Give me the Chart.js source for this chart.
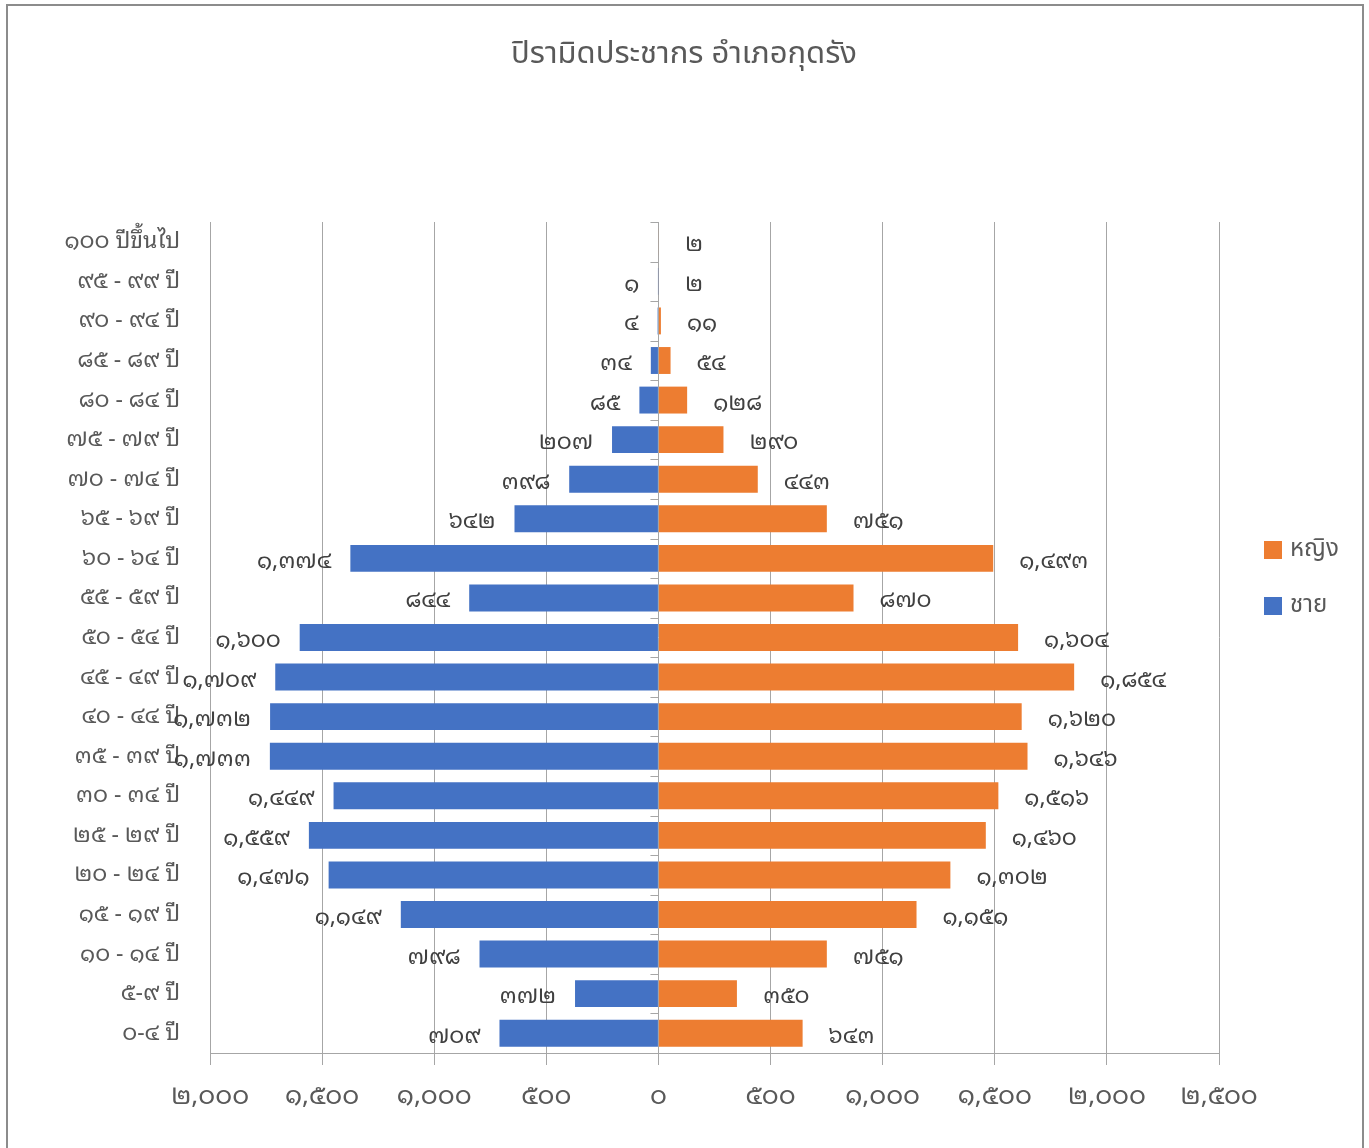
<!DOCTYPE html>
<html>
<head>
<meta charset="utf-8">
<title>ปิรามิดประชากร อำเภอกุดรัง</title>
<script src="https://cdn.jsdelivr.net/npm/chart.js@4.4.1/dist/chart.umd.min.js"></script>
<style>
  html, body { margin: 0; padding: 0; background: #ffffff; }
  #wrap { position: absolute; left: 0; top: 0; width: 1369px; height: 1148px; }
</style>
</head>
<body>
<div id="wrap"><canvas id="pyramid" width="1369" height="1148"></canvas></div>
<script>
// Age groups, oldest at the top
const ageGroups = [
  '๑๐๐ ปีขึ้นไป', '๙๕ - ๙๙ ปี', '๙๐ - ๙๔ ปี', '๘๕ - ๘๙ ปี', '๘๐ - ๘๔ ปี',
  '๗๕ - ๗๙ ปี', '๗๐ - ๗๔ ปี', '๖๕ - ๖๙ ปี', '๖๐ - ๖๔ ปี', '๕๕ - ๕๙ ปี',
  '๕๐ - ๕๔ ปี', '๔๕ - ๔๙ ปี', '๔๐ - ๔๔ ปี', '๓๕ - ๓๙ ปี', '๓๐ - ๓๔ ปี',
  '๒๕ - ๒๙ ปี', '๒๐ - ๒๔ ปี', '๑๕ - ๑๙ ปี', '๑๐ - ๑๔ ปี', '๕-๙ ปี', '๐-๔ ปี'
];

// ชาย (male) counts per age group
const maleCounts = [
  null, 1, 4, 34, 85, 207, 398, 642, 1374, 844,
  1600, 1709, 1732, 1733, 1449, 1559, 1471, 1149, 798, 372, 709
];

// หญิง (female) counts per age group
const femaleCounts = [
  2, 2, 11, 54, 128, 290, 443, 751, 1493, 870,
  1604, 1854, 1620, 1646, 1516, 1460, 1302, 1151, 751, 350, 643
];

// Value axis ticks and their printed labels
const axisTickValues = [-2000, -1500, -1000, -500, 0, 500, 1000, 1500, 2000, 2500];
const axisTickLabels = ['๒,๐๐๐', '๑,๕๐๐', '๑,๐๐๐', '๕๐๐', '๐', '๕๐๐', '๑,๐๐๐', '๑,๕๐๐', '๒,๐๐๐', '๒,๕๐๐'];

const seriesNames = { male: 'ชาย', female: 'หญิง' };
const chartTitle = 'ปิรามิดประชากร อำเภอกุดรัง';

const COLORS = { male: '#4472C4', female: '#ED7D31', grid: '#a6a6a6', text: '#595959', label: '#404040' };
const FONT_PLAIN = "'Noto Sans Thai', 'Noto Sans', sans-serif";
const FONT_LOOPED = "'Noto Sans Thai Looped', 'Noto Sans Thai', 'Noto Sans', sans-serif";

const thaiDigits = ['๐','๑','๒','๓','๔','๕','๖','๗','๘','๙'];
function toThai(n) {
  return Math.abs(n).toLocaleString('en-US').replace(/[0-9]/g, d => thaiDigits[+d]);
}

// Frame and title
const framePlugin = {
  id: 'frame',
  beforeDraw(chart) {
    const c = chart.ctx;
    c.save();
    c.fillStyle = '#ffffff';
    c.fillRect(0, 0, chart.width, chart.height);
    c.strokeStyle = '#8c8c8c';
    c.lineWidth = 2;
    c.strokeRect(7, 5, chart.width - 13, chart.height + 20);

    c.font = '31px ' + FONT_PLAIN;
    c.fillStyle = COLORS.text;
    c.textAlign = 'center';
    c.textBaseline = 'middle';
    c.fillText(chartTitle, 684, 57);
    c.restore();
  }
};

// Value labels beside each bar, small category ticks on the zero line, legend
const labelPlugin = {
  id: 'barLabels',
  afterDatasetsDraw(chart) {
    const c = chart.ctx;
    const xs = chart.scales.x, ys = chart.scales.y;
    const x0 = xs.getPixelForValue(0);

    c.save();
    c.strokeStyle = COLORS.grid;
    c.lineWidth = 1;
    const n = ageGroups.length;
    for (let i = 0; i <= n; i++) {
      const y = Math.round(ys.getPixelForValue(i - 0.5)) + 0.5;
      c.beginPath();
      c.moveTo(x0 - 8, y);
      c.lineTo(x0, y);
      c.stroke();
    }

    c.font = '23px ' + FONT_LOOPED;
    c.fillStyle = COLORS.label;
    c.textBaseline = 'middle';
    chart.data.datasets.forEach((ds, di) => {
      const meta = chart.getDatasetMeta(di);
      meta.data.forEach((el, i) => {
        const v = ds.data[i];
        if (v === null || v === undefined) return;
        const txt = toThai(v);
        if (v < 0) {
          c.textAlign = 'right';
          c.fillText(txt, el.x - 19, el.y + 3);
        } else {
          c.textAlign = 'left';
          c.fillText(txt, el.x + 26, el.y + 3);
        }
      });
    });
    c.restore();
  },
  afterDraw(chart) {
    const c = chart.ctx;
    c.save();
    c.font = '24px ' + FONT_PLAIN;
    c.textBaseline = 'middle';
    c.textAlign = 'left';
    const items = [
      { name: seriesNames.female, color: COLORS.female, y: 550 },
      { name: seriesNames.male, color: COLORS.male, y: 606 }
    ];
    items.forEach(it => {
      c.fillStyle = it.color;
      c.fillRect(1264, it.y - 9, 18, 18);
      c.fillStyle = COLORS.text;
      c.fillText(it.name, 1290, it.y + 1);
    });
    c.restore();
  }
};

new Chart(document.getElementById('pyramid'), {
  type: 'bar',
  data: {
    labels: ageGroups,
    datasets: [
      {
        label: seriesNames.male,
        data: maleCounts.map(v => v === null ? null : -v),
        backgroundColor: COLORS.male,
        stack: 'pop',
        barPercentage: 0.68,
        categoryPercentage: 1.0
      },
      {
        label: seriesNames.female,
        data: femaleCounts.slice(),
        backgroundColor: COLORS.female,
        stack: 'pop',
        barPercentage: 0.68,
        categoryPercentage: 1.0
      }
    ]
  },
  options: {
    indexAxis: 'y',
    responsive: false,
    animation: false,
    devicePixelRatio: 1,
    layout: { padding: { left: 0, right: 150, top: 222, bottom: 0 } },
    plugins: {
      legend: { display: false },
      tooltip: { enabled: false },
      title: { display: false }
    },
    scales: {
      x: {
        type: 'linear',
        min: -2000,
        max: 2500,
        stacked: true,
        afterBuildTicks(scale) {
          scale.ticks = axisTickValues.map(v => ({ value: v }));
        },
        afterFit(scale) { scale.height = 95; },
        grid: {
          color: COLORS.grid,
          lineWidth: 1,
          drawTicks: true,
          tickLength: 12,
          tickColor: COLORS.grid
        },
        border: { display: true, color: COLORS.grid, width: 1 },
        ticks: {
          color: COLORS.text,
          padding: 16,
          maxRotation: 0,
          font: { family: FONT_LOOPED, size: 26 },
          callback(value) {
            const idx = axisTickValues.indexOf(value);
            return idx >= 0 ? axisTickLabels[idx] : '';
          }
        }
      },
      y: {
        type: 'category',
        stacked: true,
        afterFit(scale) { scale.width = 210; },
        grid: { display: false, drawTicks: false },
        border: { display: false },
        ticks: {
          color: COLORS.text,
          padding: 30,
          autoSkip: false,
          font: { family: FONT_LOOPED, size: 23 }
        }
      }
    }
  },
  plugins: [framePlugin, labelPlugin]
});
</script>
</body>
</html>
